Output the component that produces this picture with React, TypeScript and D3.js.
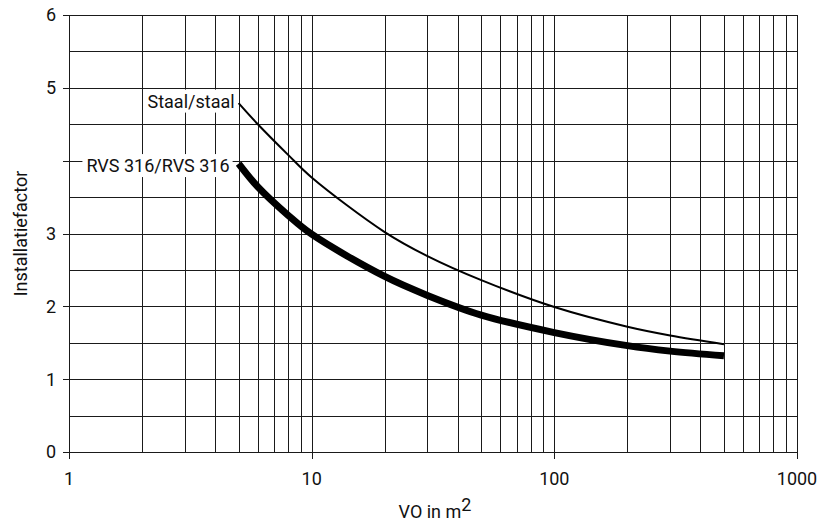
import React, { useRef, useEffect } from 'react';
import * as d3 from 'd3';

// VO in m2 (x) and installatiefactor (y)
const staalX = [5, 6, 8, 10, 20, 30, 50, 100, 200, 300, 500];
const staalY = [4.79, 4.5, 4.08, 3.77, 3.02, 2.69, 2.36, 1.99, 1.72, 1.6, 1.48];
const rvsX = [5, 6, 8, 10, 20, 30, 50, 100, 200, 300, 500];
const rvsY = [3.96, 3.64, 3.25, 2.99, 2.41, 2.15, 1.88, 1.64, 1.46, 1.385, 1.32];

const xTickLabels = [1, 10, 100, 1000];
const yTickLabels = [0, 1, 2, 3, 5, 6];
const yTicks = [0, 1, 2, 3, 4, 5, 6];
const yGrid = [0.5, 1, 1.5, 2, 2.5, 3, 3.5, 4, 4.5, 5, 5.5, 6];

const W = 827;
const H = 526;
const FONT = 'Roboto, "Noto Sans", sans-serif';

const App = () => {
    const ref = useRef(null);

    useEffect(() => {
        const svg = d3.select(ref.current);
        svg.selectAll('*').remove();

        const m = { left: 69, right: 30, top: 15, bottom: 74 };
        const x = d3.scaleLog().domain([1, 1000]).range([m.left, W - m.right]);
        const y = d3.scaleLinear().domain([0, 6]).range([H - m.bottom, m.top]);
        const px = (v) => Math.round(x(v)) + 0.5;
        const py = (v) => Math.round(y(v)) + 0.5;

        const grid = svg.append('g')
            .attr('stroke', '#1a1a1a')
            .attr('stroke-width', 1)
            .attr('shape-rendering', 'crispEdges');

        // vertical grid lines at every log step
        const xGrid = x.ticks().filter(v => v > 1);
        grid.selectAll('line.v').data(xGrid).enter()
            .append('line')
            .attr('x1', d => px(d)).attr('x2', d => px(d))
            .attr('y1', py(0)).attr('y2', py(6));

        grid.selectAll('line.h').data(yGrid).enter()
            .append('line')
            .attr('x1', px(1)).attr('x2', px(1000))
            .attr('y1', d => py(d)).attr('y2', d => py(d));

        // axis lines
        grid.append('line')
            .attr('x1', px(1)).attr('x2', px(1))
            .attr('y1', py(0)).attr('y2', py(6));
        grid.append('line')
            .attr('x1', px(1)).attr('x2', px(1000))
            .attr('y1', py(0)).attr('y2', py(0));

        // ticks
        grid.selectAll('line.yt').data(yTicks).enter()
            .append('line')
            .attr('x1', px(1) - 7).attr('x2', px(1))
            .attr('y1', d => py(d)).attr('y2', d => py(d));
        grid.selectAll('line.xt').data(xTickLabels).enter()
            .append('line')
            .attr('x1', d => px(d)).attr('x2', d => px(d))
            .attr('y1', py(0)).attr('y2', py(0) + 6);

        // tick labels
        svg.selectAll('text.yl').data(yTickLabels).enter()
            .append('text')
            .attr('x', 56)
            .attr('y', d => y(d))
            .attr('dy', '0.36em')
            .attr('text-anchor', 'end')
            .attr('font-family', FONT)
            .attr('font-size', 18)
            .attr('fill', '#111')
            .text(d => d);

        svg.selectAll('text.xl').data(xTickLabels).enter()
            .append('text')
            .attr('x', d => x(d))
            .attr('y', 485)
            .attr('text-anchor', 'middle')
            .attr('font-family', FONT)
            .attr('font-size', 18)
            .attr('fill', '#111')
            .text(d => d);

        // curves
        const line = d3.line()
            .x(d => x(d[0]))
            .y(d => y(d[1]))
            .curve(d3.curveCatmullRom.alpha(0.5));

        svg.append('path')
            .datum(staalX.map((v, i) => [v, staalY[i]]))
            .attr('d', line)
            .attr('fill', 'none')
            .attr('stroke', '#000')
            .attr('stroke-width', 2);

        svg.append('path')
            .datum(rvsX.map((v, i) => [v, rvsY[i]]))
            .attr('d', line)
            .attr('fill', 'none')
            .attr('stroke', '#000')
            .attr('stroke-width', 7);

        // series labels with white background
        const labels = [
            { text: 'Staal/staal', xv: 5, yv: staalY[0], dx: -4, dy: -2 },
            { text: 'RVS 316/RVS 316', xv: 5, yv: rvsY[0], dx: -9, dy: 2 },
        ];
        labels.forEach(l => {
            const g = svg.append('g');
            const rect = g.append('rect').attr('fill', '#fff');
            const t = g.append('text')
                .attr('x', x(l.xv) + l.dx)
                .attr('y', y(l.yv) + l.dy)
                .attr('dy', '0.36em')
                .attr('text-anchor', 'end')
                .attr('font-family', FONT)
                .attr('font-size', 18)
                .attr('fill', '#111')
                .text(l.text);
            const b = t.node().getBBox();
            rect.attr('x', b.x - 4).attr('y', b.y - 1)
                .attr('width', b.width + 7).attr('height', b.height + 2);
        });

        // axis titles
        const xt = svg.append('text')
            .attr('x', x(Math.sqrt(1000)) + 2)
            .attr('y', 518)
            .attr('text-anchor', 'middle')
            .attr('font-family', FONT)
            .attr('font-size', 18)
            .attr('fill', '#111');
        xt.append('tspan').text('VO in m');
        xt.append('tspan').attr('dy', -7).attr('font-size', 18).text('2');

        svg.append('text')
            .attr('transform', `translate(27, ${(y(0) + y(6)) / 2}) rotate(-90)`)
            .attr('text-anchor', 'middle')
            .attr('font-family', FONT)
            .attr('font-size', 18)
            .attr('fill', '#111')
            .text('Installatiefactor');
    }, []);

    return (
        <div className="chart">
            <svg ref={ref} width={W} height={H}
                style={{ position: 'absolute', left: 0, top: 0, background: '#fff' }}></svg>
        </div>
    );
};

export default App;
